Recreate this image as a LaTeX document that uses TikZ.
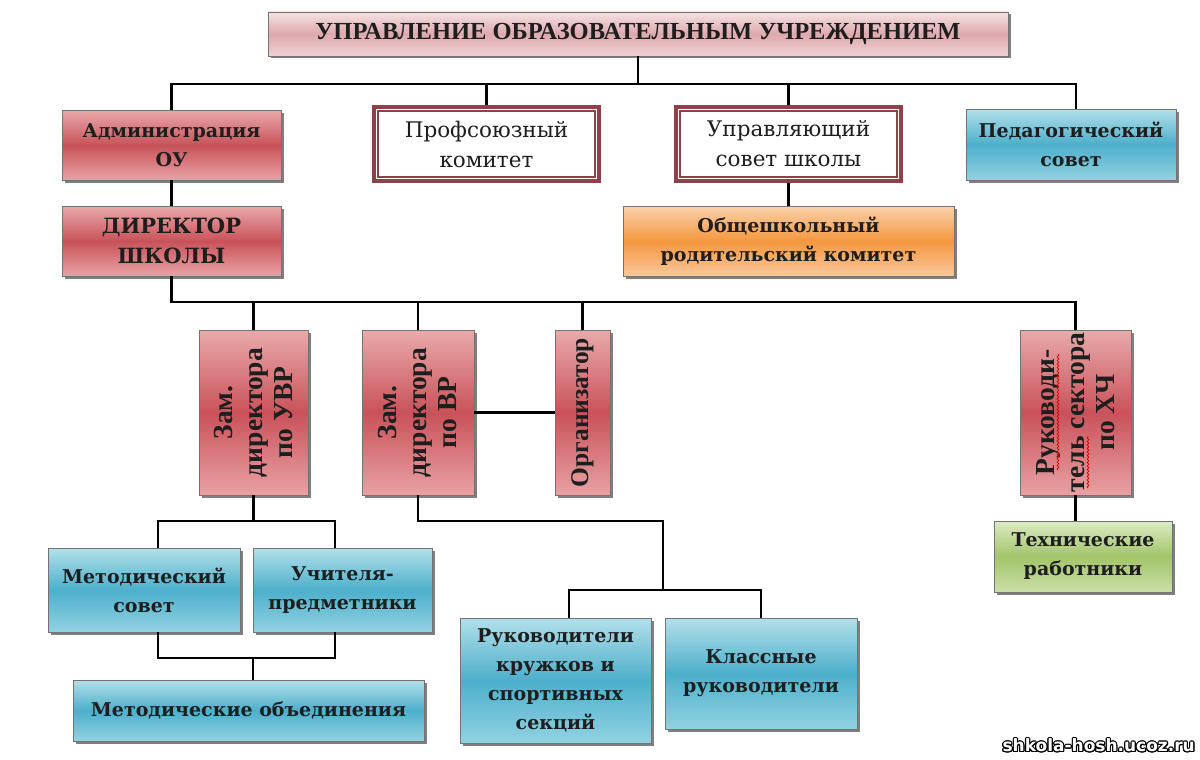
\documentclass[tikz,border=0pt]{standalone}
\usepackage{fontspec}
\usepackage{contour}
\usetikzlibrary{shadows,decorations.pathmorphing}
\newfontfamily\wserif{DejaVu Serif}
\newfontfamily\tserif{Liberation Serif}
\newfontfamily\wmark{DejaVu Sans}
\contourlength{1.1pt}
\definecolor{redT}{HTML}{E9AAAA}
\definecolor{redM}{HTML}{C9525A}
\definecolor{redB}{HTML}{E8A2A4}
\definecolor{pinkT}{HTML}{F6E2E2}
\definecolor{pinkM}{HTML}{DDA9AE}
\definecolor{pinkB}{HTML}{F0D2D4}
\definecolor{bluT}{HTML}{B2E0EA}
\definecolor{bluM}{HTML}{4DAFCB}
\definecolor{bluB}{HTML}{92D2E2}
\definecolor{orT}{HTML}{FAD2AC}
\definecolor{orM}{HTML}{F4973F}
\definecolor{orB}{HTML}{F9C89C}
\definecolor{grT}{HTML}{DCEBC4}
\definecolor{grM}{HTML}{A3C46A}
\definecolor{grB}{HTML}{CADFA8}
\definecolor{dbred}{HTML}{8E4148}
\definecolor{txt}{HTML}{1E1E1E}
\tikzset{
  obox/.style={rectangle, inner sep=0pt, align=center, draw=black!55, line width=0.6pt,
    drop shadow={shadow xshift=2.5pt, shadow yshift=-2.5pt, opacity=0.5, fill=black},
    font=\wserif\bfseries\fontsize{19}{29}\selectfont, text=txt},
  redbox/.style={obox, top color=redT, bottom color=redB, middle color=redM},
  pinkbox/.style={obox, top color=pinkT, bottom color=pinkB, middle color=pinkM},
  blubox/.style={obox, top color=bluT, bottom color=bluB, middle color=bluM},
  orbox/.style={obox, top color=orT, bottom color=orB, middle color=orM},
  grbox/.style={obox, top color=grT, bottom color=grB, middle color=grM},
  dblbox/.style={rectangle, inner sep=0pt, align=center, draw=dbred, line width=4pt, fill=white,
    font=\wserif\fontsize{21.5}{30}\selectfont, text=txt},
  innerline/.style={draw=dbred, line width=1.3pt},
  conn/.style={line width=2.2pt, black},
  vtext/.style={rotate=90, align=center, inner sep=0pt,
    font=\tserif\bfseries\fontsize{27.5}{30}\selectfont, text=txt},
  squig/.style={red!85!black, line width=0.7pt, decorate,
    decoration={snake, amplitude=0.9pt, segment length=3.5pt}}
}
\begin{document}
\begin{tikzpicture}[x=1pt,y=-1pt]
\fill[white] (0,0) rectangle (1200,760);
\useasboundingbox (0,0) rectangle (1200,760);

% title
\node[pinkbox, minimum width=740, minimum height=44,
  font=\tserif\bfseries\fontsize{24.5}{28}\selectfont] (title) at (638,34)
  {УПРАВЛЕНИЕ ОБРАЗОВАТЕЛЬНЫМ УЧРЕЖДЕНИЕМ};

% first row
\node[redbox, minimum width=219, minimum height=70] (admin) at (171.5,145) {Администрация\\ОУ};
\node[dblbox, minimum width=225, minimum height=74] (prof) at (486.5,144) {Профсоюзный\\комитет};
\node[dblbox, minimum width=225, minimum height=74] (upr) at (788.5,144) {Управляющий\\совет школы};
\node[blubox, minimum width=210, minimum height=71] (ped) at (1071,144.5) {Педагогический\\совет};
\draw[innerline] ([shift={(6,6)}]prof.north west) rectangle ([shift={(-6,-6)}]prof.south east);
\draw[innerline] ([shift={(6,6)}]upr.north west) rectangle ([shift={(-6,-6)}]upr.south east);

% second row
\node[redbox, minimum width=219, minimum height=70, font=\wserif\bfseries\fontsize{21}{30}\selectfont] (dir) at (171.5,241) {ДИРЕКТОР\\ШКОЛЫ};
\node[orbox, minimum width=331, minimum height=70] (obsh) at (788.5,241) {Общешкольный\\родительский комитет};

% vertical boxes
\node[redbox, minimum width=109, minimum height=165] (zuvr) at (253.5,412.5) {};
\node[vtext] (zuvrT) at (zuvr.center) {Зам.\\директора\\по УВР};
\node[redbox, minimum width=112, minimum height=165] (zvr) at (418,412.5) {};
\node[vtext] (zvrT) at (zvr.center) {Зам.\\директора\\по ВР};
\node[redbox, minimum width=55, minimum height=165] (org) at (582.5,412.5) {};
\node[vtext, font=\tserif\bfseries\fontsize{25.5}{30}\selectfont] (orgT) at (org.center) {Организатор};
\node[redbox, minimum width=111, minimum height=165] (rxch) at (1075.5,412.5) {};
\node[vtext] (rxchT) at (rxch.center) {Руководи-\\тель сектора\\по ХЧ};
\draw[squig] (1058,470) -- (1058,354);
\draw[squig] (1088,488) -- (1088,436);

% lower boxes
\node[blubox, minimum width=192, minimum height=84] (msov) at (144,590) {Методический\\совет};
\node[blubox, minimum width=179, minimum height=84] (uchit) at (342.5,590) {Учителя-\\предметники};
\node[blubox, minimum width=351, minimum height=61] (mob) at (248.5,710.5) {Методические объединения};
\node[blubox, minimum width=191, minimum height=125] (rkr) at (555.5,680.5) {Руководители\\кружков и\\спортивных\\секций};
\node[blubox, minimum width=192, minimum height=111] (kls) at (761,673.5) {Классные\\руководители};
\node[grbox, minimum width=178, minimum height=71] (tech) at (1083,556.5) {Технические\\работники};

% connectors
\coordinate (b1) at (637,84);
\draw[conn] (title.south) -- (title.south |- b1);
\draw[conn] (admin.north) |- (b1) -| ([xshift=5]ped.north);
\draw[conn] (prof.north) -- (prof.north |- b1);
\draw[conn] (upr.north) -- (upr.north |- b1);
\draw[conn] (admin) -- (dir);
\draw[conn] (upr) -- (obsh);

\coordinate (b2) at (172,302);
\draw[conn] (dir.south) -- (dir.south |- b2) -| (rxch.north);
\draw[conn] (zuvr.north) -- (zuvr.north |- b2);
\draw[conn] (zvr.north) -- (zvr.north |- b2);
\draw[conn] (org.north) -- (org.north |- b2);
\draw[conn] (zvr) -- (org);

\coordinate (b3) at (253,521);
\draw[conn] (zuvr.south) -- (zuvr.south |- b3);
\draw[conn] ([xshift=14]msov.north) |- (b3) -| ([xshift=-7.5]uchit.north);
\coordinate (b4) at (253,658);
\draw[conn] ([xshift=14]msov.south) |- (b4) -| ([xshift=-7.5]uchit.south);
\draw[conn] (b4) -- (b4 |- mob.north);

\coordinate (c1) at (663,521);
\coordinate (c2) at (663,590);
\draw[conn] (zvr.south) |- (c1) -- (c2);
\draw[conn] ([xshift=13.5]rkr.north) |- (kls.north |- c2) -- (kls.north);

\draw[conn] (rxch.south) -- (rxch.south |- tech.north);

% watermark
\node[anchor=east, inner sep=0pt, font=\wmark\bfseries\fontsize{17}{17}\selectfont] (wm) at (1195,746)
  {\contour{black}{\textcolor{white}{shkola-hosh.ucoz.ru}}};
\end{tikzpicture}
\end{document}
